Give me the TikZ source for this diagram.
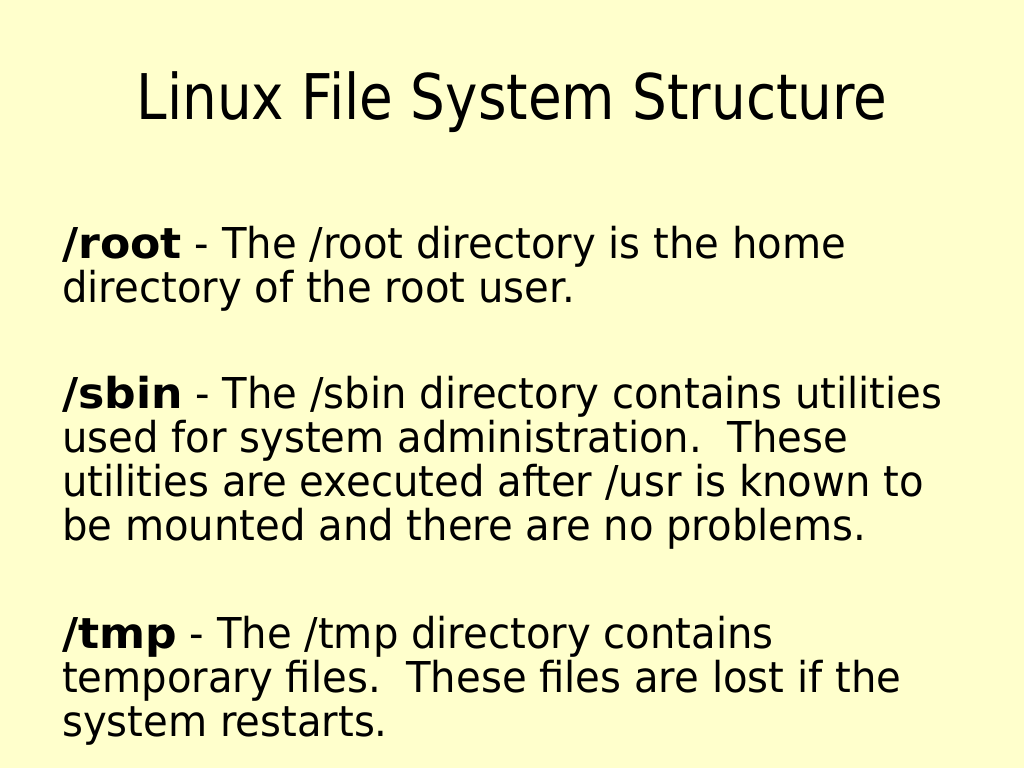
\documentclass[tikz,border=0pt]{standalone}
\usepackage{fontspec}
\setmainfont{DejaVu Sans}[FakeStretch=0.945,BoldFeatures={FakeStretch=1.04}]
\newfontfamily\titlefont{DejaVu Sans}[FakeStretch=0.87]
\usetikzlibrary{positioning}
\definecolor{slidebg}{HTML}{FFFFCC}

\begin{document}
\begin{tikzpicture}[x=1pt,y=-1pt]
\tikzstyle{every node}+=[inner sep=0pt]
\tikzstyle{para}=[anchor=base west,align=left,font=\fontsize{42.5}{44}\selectfont]
\fill [slidebg] (0,0) rectangle (1024,768);
\useasboundingbox (0,0) rectangle (1024,768);
\node (title) [anchor=base,font=\titlefont\fontsize{63}{70}\selectfont] at (512,119) {Linux File System Structure};
% anchors sit on the last line of each paragraph
\node (root) [para] at (62,302) {\textbf{/root} - The /root directory is the home\\directory of the root user.};
\node (sbin) [para] at (62,540) {\textbf{/sbin} - The /sbin directory contains utilities\\used for system administration.\ \ These\\utilities are executed after /usr is known to\\be mounted and there are no problems.};
\node (tmp) [para] at (62,736) {\textbf{/tmp} - The /tmp directory contains\\temporary files.\ \ These files are lost if the\\system restarts.};
\end{tikzpicture}
\end{document}
